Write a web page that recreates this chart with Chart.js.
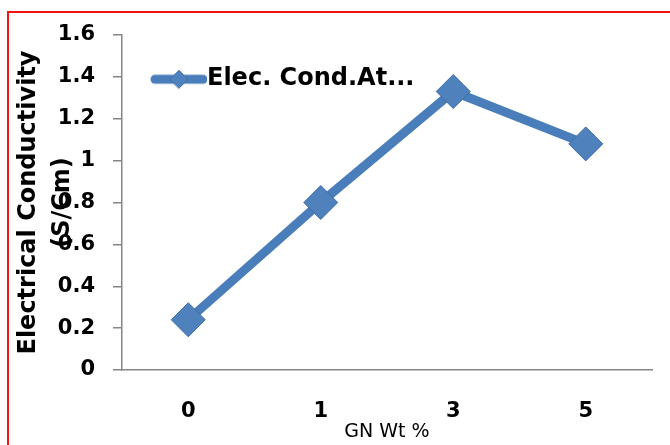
<!DOCTYPE html>
<html>
<head>
<meta charset="utf-8">
<title>Electrical Conductivity vs GN Wt %</title>
<script src="https://cdn.jsdelivr.net/npm/chart.js@4"></script>
<style>
	html, body { margin: 0; padding: 0; background: #fff; }
	#wrap { position: relative; width: 670px; height: 445px; }
	#myChart { display: block; }
	/* red frame: only top and left edges are visible in the picture */
	#frame {
		position: absolute; left: 7px; top: 11px; right: 0; bottom: 0;
		border-top: 2px solid #f01414; border-left: 2px solid #f01414;
		pointer-events: none;
	}
</style>
</head>
<body>
<div id="wrap">
	<canvas id="myChart" width="670" height="445"></canvas>
	<div id="frame"></div>
</div>
<script>
// chart data
const categories = ['0', '1', '3', '5'];
const conductivity = [0.24, 0.80, 1.33, 1.08];
const yTickLabels = ['0', '0.2', '0.4', '0.6', '0.8', '1', '1.2', '1.4', '1.6'];
const seriesName = 'Elec. Cond.At...';

const lineColor = '#4a7ebb';
const boldFont = (size) => ({ family: 'DejaVu Sans', weight: 'bold', size: size });

// legend symbol = short thick line with a diamond in the middle
const legendIcon = document.createElement('canvas');
legendIcon.width = 66;
legendIcon.height = 24;
const g = legendIcon.getContext('2d');
g.strokeStyle = lineColor;
g.lineWidth = 9;
g.lineCap = 'round';
g.beginPath();
g.moveTo(14, 12);
g.lineTo(62, 12);
g.stroke();
g.fillStyle = '#4f81bd';
g.strokeStyle = '#3f6ea6';
g.lineWidth = 1;
g.beginPath();
g.moveTo(38 - 9, 12);
g.lineTo(38, 3);
g.lineTo(38 + 9, 12);
g.lineTo(38, 21);
g.closePath();
g.fill();
g.stroke();

const myChart = document.getElementById('myChart');

let lineChart = new Chart(myChart, {
	type: 'line',
	data: {
		labels: categories,
		datasets: [{
			label: seriesName,
			data: conductivity,
			borderColor: lineColor,
			borderWidth: 9,
			backgroundColor: '#4f81bd',
			pointStyle: 'rectRot',
			pointRadius: 17,
			pointBorderWidth: 1,
			pointBorderColor: '#3f6ea6',
			pointBackgroundColor: '#4f81bd',
			tension: 0
		}]
	},
	options: {
		responsive: false,
		animation: false,
		devicePixelRatio: 1,
		layout: {
			padding: { left: 0, top: 35, right: 15, bottom: 0 }
		},
		plugins: {
			tooltip: { enabled: false },
			legend: {
				position: 'chartArea',
				align: 'start',
				// empty title only pushes the entry down
				title: { display: true, text: '', font: { size: 1 }, padding: { top: 35, bottom: 0 } },
				labels: {
					usePointStyle: true,
					pointStyle: legendIcon,
					pointStyleWidth: 42,
					padding: 31,
					color: '#000',
					font: boldFont(24)
				}
			}
		},
		scales: {
			x: {
				offset: true,
				grid: { display: false, drawTicks: false },
				border: { color: '#868686', width: 1.5 },
				ticks: { color: '#000', padding: 29, font: boldFont(21) },
				title: {
					display: true,
					text: 'GN Wt %',
					color: '#000',
					font: { family: 'DejaVu Sans', size: 19 },
					padding: { top: 0, bottom: 2 }
				},
				afterFit: s => { s.height = 75; }
			},
			y: {
				min: 0,
				max: 1.6,
				ticks: {
					stepSize: 0.2,
					padding: 18,
					color: '#000',
					font: boldFont(21),
					callback: (value, i) => yTickLabels[i]
				},
				grid: {
					drawOnChartArea: false,
					drawTicks: true,
					tickLength: 9,
					color: '#868686',
					lineWidth: 1.5
				},
				border: { color: '#868686', width: 1.5 },
				title: {
					display: true,
					text: ['Electrical Conductivity', '(S/Cm)'],
					color: '#000',
					font: { family: 'DejaVu Sans', weight: 'bold', size: 24, lineHeight: 1.42 },
					padding: { top: 12, bottom: 0 }
				},
				afterFit: s => { s.width = 122; }
			}
		}
	}
});
</script>
</body>
</html>
